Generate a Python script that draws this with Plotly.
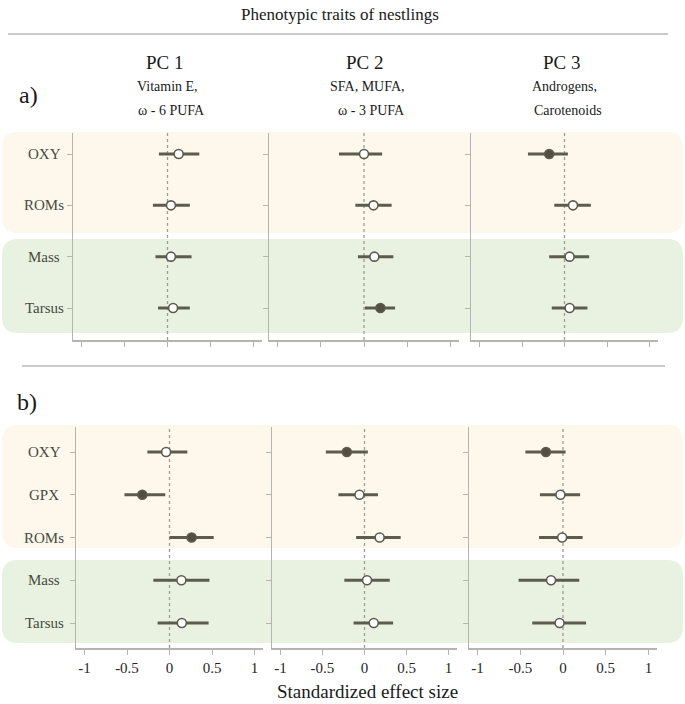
import plotly.graph_objects as go

# ---------------- data ----------------
rows_a = ["OXY", "ROMs", "Mass", "Tarsus"]
rows_b = ["OXY", "GPX", "ROMs", "Mass", "Tarsus"]
pc_names = ["PC 1", "PC 2", "PC 3"]
pc_line1 = ["Vitamin E,", "SFA, MUFA,", "Androgens,"]
pc_line2 = ["ω - 6 PUFA", "ω - 3 PUFA", "Carotenoids"]
tick_vals = [-1, -0.5, 0, 0.5, 1]
tick_text = ["-1", "-0.5", "0", "0.5", "1"]

# panel a) estimates, lower / upper CI, significance (1 = filled)
a_est = [[0.13, 0.04, 0.04, 0.065], [0.0, 0.11, 0.12, 0.19], [-0.18, 0.10, 0.06, 0.06]]
a_lo = [[-0.10, -0.17, -0.14, -0.11], [-0.29, -0.10, -0.07, 0.01], [-0.43, -0.12, -0.18, -0.15]]
a_hi = [[0.37, 0.26, 0.28, 0.26], [0.21, 0.32, 0.34, 0.36], [0.04, 0.31, 0.29, 0.27]]
a_sig = [[0, 0, 0, 0], [0, 0, 0, 1], [1, 0, 0, 0]]

# panel b)
b_est = [[-0.04, -0.32, 0.26, 0.14, 0.145], [-0.21, -0.06, 0.18, 0.03, 0.11], [-0.20, -0.03, -0.01, -0.14, -0.04]]
b_lo = [[-0.26, -0.53, 0.0, -0.19, -0.14], [-0.46, -0.31, -0.10, -0.24, -0.13], [-0.44, -0.27, -0.28, -0.52, -0.36]]
b_hi = [[0.21, -0.05, 0.52, 0.47, 0.46], [0.04, 0.16, 0.43, 0.30, 0.34], [0.03, 0.20, 0.23, 0.19, 0.27]]
b_sig = [[0, 1, 1, 0, 0], [1, 0, 0, 0, 0], [1, 0, 0, 0, 0]]

# ---------------- layout helpers ----------------
W, H = 685, 704
FONT = "Liberation Serif, Times New Roman, Times, serif"
BAR_COL = "#5c5b4e"
FILL_COL = "#534e43"
AXIS_COL = "#b4b4b0"
LABEL_COL = "#474b3e"


def px(x):
    return x / W


def py(y):
    return 1 - y / H


panels = [
    dict(rows=rows_a, est=a_est, lo=a_lo, hi=a_hi, sig=a_sig,
         cols=[(73, 262), (269, 459), (471, 658)], ytop=133, ybot=340,
         yrow0=154, yrowN=308, labels=False,
         bands=[(132, 233, "#fdf8eb"), (239, 333, "#e9f1e1")]),
    dict(rows=rows_b, est=b_est, lo=b_lo, hi=b_hi, sig=b_sig,
         cols=[(76, 263), (272, 457), (469, 657)], ytop=427, ybot=648,
         yrow0=452, yrowN=623, labels=True,
         bands=[(425, 548, "#fdf8eb"), (560, 643, "#e9f1e1")]),
]


def rounded_rect(x0, y0, x1, y1, r):
    # pixel coords -> paper path
    pts = []
    pts.append(f"M {px(x0 + r)} {py(y0)}")
    pts.append(f"L {px(x1 - r)} {py(y0)}")
    pts.append(f"Q {px(x1)} {py(y0)} {px(x1)} {py(y0 + r)}")
    pts.append(f"L {px(x1)} {py(y1 - r)}")
    pts.append(f"Q {px(x1)} {py(y1)} {px(x1 - r)} {py(y1)}")
    pts.append(f"L {px(x0 + r)} {py(y1)}")
    pts.append(f"Q {px(x0)} {py(y1)} {px(x0)} {py(y1 - r)}")
    pts.append(f"L {px(x0)} {py(y0 + r)}")
    pts.append(f"Q {px(x0)} {py(y0)} {px(x0 + r)} {py(y0)}")
    pts.append("Z")
    return " ".join(pts)


fig = go.Figure()
shapes = []
annotations = []
layout_axes = {}

# background bands first
for p in panels:
    for (t, b, c) in p["bands"]:
        shapes.append(dict(type="path", xref="paper", yref="paper",
                           path=rounded_rect(2, t, 683, b, 16),
                           fillcolor=c, line=dict(width=0), layer="below"))

n = 0
for pi, p in enumerate(panels):
    nrows = len(p["rows"])
    unit = (p["yrowN"] - p["yrow0"]) / (nrows - 1)
    y_top_val = (p["ytop"] - p["yrow0"]) / unit
    y_bot_val = (p["ybot"] - p["yrow0"]) / unit
    for ci in range(3):
        n += 1
        xa = "x" if n == 1 else f"x{n}"
        ya = "y" if n == 1 else f"y{n}"
        xkey = "xaxis" if n == 1 else f"xaxis{n}"
        ykey = "yaxis" if n == 1 else f"yaxis{n}"
        est = p["est"][ci]
        lo = p["lo"][ci]
        hi = p["hi"][ci]
        sig = p["sig"][ci]
        yv = list(range(nrows))
        fig.add_trace(go.Scatter(
            x=est, y=yv, xaxis=xa, yaxis=ya, mode="markers",
            showlegend=False, hoverinfo="skip",
            error_x=dict(type="data", symmetric=False,
                         array=[h - e for h, e in zip(hi, est)],
                         arrayminus=[e - l for e, l in zip(est, lo)],
                         color=BAR_COL, thickness=3, width=0),
            marker=dict(size=9, symbol="circle",
                        color=[FILL_COL if s else "white" for s in sig],
                        line=dict(color=BAR_COL, width=1.6)),
        ))
        x0, x1 = p["cols"][ci]
        layout_axes[xkey] = dict(
            domain=[px(x0), px(x1)], range=[-1.1, 1.1], anchor=ya,
            showline=True, linecolor=AXIS_COL, linewidth=1.5,
            showgrid=False, zeroline=False,
            tickvals=tick_vals, ticktext=tick_text,
            ticks="outside", ticklen=5, tickcolor=AXIS_COL, tickwidth=1,
            showticklabels=p["labels"],
            tickfont=dict(family=FONT, size=15, color="#262626"),
        )
        layout_axes[ykey] = dict(
            domain=[py(p["ybot"]), py(p["ytop"])],
            range=[y_bot_val, y_top_val], anchor=xa,
            showline=True, linecolor=AXIS_COL, linewidth=1.5,
            showgrid=False, zeroline=False,
            tickvals=yv, ticks="outside", ticklen=5, tickcolor=AXIS_COL,
            tickwidth=1, showticklabels=False,
        )
        # dotted zero line
        shapes.append(dict(type="line", xref=xa, yref=f"{ya} domain",
                           x0=0, x1=0, y0=0, y1=1,
                           line=dict(color="#9c9c98", width=1.3, dash="dot"),
                           layer="below"))
    # row labels
    for ri, lab in enumerate(p["rows"]):
        annotations.append(dict(
            x=px(44), y=py(p["yrow0"] + ri * unit), xref="paper", yref="paper",
            text=lab, showarrow=False, xanchor="center", yanchor="middle",
            font=dict(family=FONT, size=15, color=LABEL_COL)))

# column headers
pc_x = [165, 365, 562]
for ci in range(3):
    annotations.append(dict(x=px(pc_x[ci]), y=py(62), xref="paper", yref="paper",
                            text=pc_names[ci], showarrow=False, xanchor="center",
                            yanchor="middle",
                            font=dict(family=FONT, size=19, color="#1a1a1a")))
    annotations.append(dict(x=px(pc_x[ci] + 2), y=py(87), xref="paper", yref="paper",
                            text=pc_line1[ci], showarrow=False, xanchor="center",
                            yanchor="middle",
                            font=dict(family=FONT, size=14, color="#1a1a1a")))
    annotations.append(dict(x=px(pc_x[ci] + 6), y=py(110), xref="paper", yref="paper",
                            text=pc_line2[ci], showarrow=False, xanchor="center",
                            yanchor="middle",
                            font=dict(family=FONT, size=14, color="#1a1a1a")))

annotations.append(dict(x=px(340), y=py(14), xref="paper", yref="paper",
                        text="Phenotypic traits of nestlings", showarrow=False,
                        xanchor="center", yanchor="middle",
                        font=dict(family=FONT, size=17, color="#1a1a1a")))
annotations.append(dict(x=px(28), y=py(95), xref="paper", yref="paper",
                        text="a)", showarrow=False, xanchor="center", yanchor="middle",
                        font=dict(family=FONT, size=24, color="#1a1a1a")))
annotations.append(dict(x=px(27), y=py(402), xref="paper", yref="paper",
                        text="b)", showarrow=False, xanchor="center", yanchor="middle",
                        font=dict(family=FONT, size=24, color="#1a1a1a")))
annotations.append(dict(x=px(367), y=py(691), xref="paper", yref="paper",
                        text="Standardized effect size", showarrow=False,
                        xanchor="center", yanchor="middle",
                        font=dict(family=FONT, size=19, color="#1a1a1a")))

# separator lines
shapes.append(dict(type="line", xref="paper", yref="paper",
                   x0=px(8), x1=px(668), y0=py(34), y1=py(34),
                   line=dict(color="#b8b8b8", width=1.5)))
shapes.append(dict(type="line", xref="paper", yref="paper",
                   x0=px(22), x1=px(665), y0=py(366), y1=py(366),
                   line=dict(color="#b8b8b8", width=1.5)))

fig.update_layout(
    width=W, height=H, autosize=False,
    margin=dict(l=0, r=0, t=0, b=0),
    paper_bgcolor="white", plot_bgcolor="rgba(0,0,0,0)",
    shapes=shapes, annotations=annotations, showlegend=False,
    hovermode=False,
    **layout_axes,
)

fig.write_html("out.html",
               config={"displayModeBar": False, "staticPlot": True},
               post_script="document.body.style.margin='0';"
                           "document.body.style.overflow='hidden';")
